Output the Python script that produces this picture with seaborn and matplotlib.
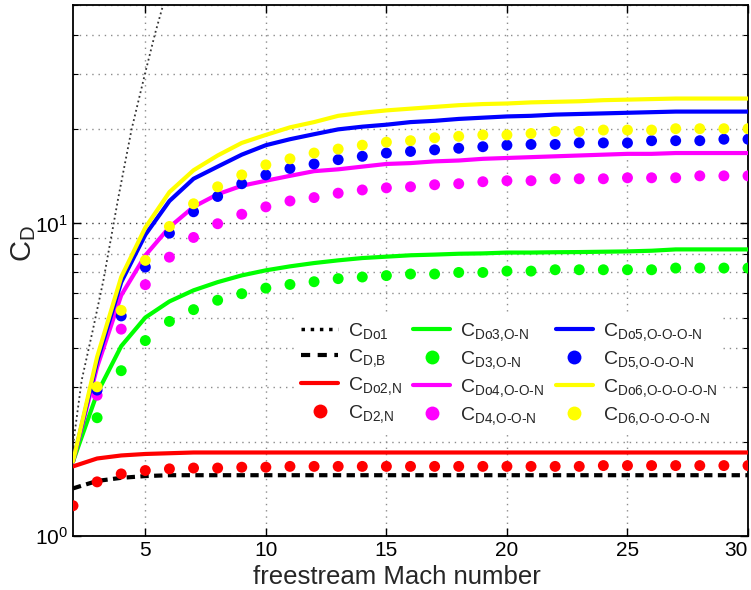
import matplotlib
matplotlib.use("Agg")
import matplotlib.pyplot as plt
import seaborn as sns
import pandas as pd
from matplotlib.lines import Line2D
from matplotlib.ticker import FixedLocator, NullFormatter, LogLocator

# ---------------- data ----------------
mach = list(range(2, 31))
mach_pts = list(range(3, 31))

# C_Do1 (steep dotted curve)
mach_o1 = [2.0, 2.36, 2.82, 3.26, 3.88, 4.43, 4.98, 5.40, 5.80]
cdo1 = [1.95, 3.15, 4.55, 6.57, 12.1, 20.0, 30.0, 40.4, 52.0]

cd_b = [1.42, 1.50, 1.535, 1.555, 1.565, 1.565, 1.565, 1.565, 1.565, 1.565,
        1.565, 1.565, 1.565, 1.565, 1.565, 1.565, 1.565, 1.565, 1.565, 1.565,
        1.565, 1.565, 1.565, 1.565, 1.565, 1.565, 1.565, 1.565, 1.565]
cdo2 = [1.67, 1.77, 1.81, 1.83, 1.84, 1.85, 1.85, 1.85, 1.85, 1.85,
        1.85, 1.85, 1.85, 1.85, 1.85, 1.85, 1.85, 1.85, 1.85, 1.85,
        1.85, 1.85, 1.85, 1.85, 1.85, 1.85, 1.85, 1.85, 1.85]
cdo3 = [1.73, 2.86, 4.05, 5.00, 5.63, 6.11, 6.49, 6.82, 7.08, 7.29,
        7.47, 7.62, 7.75, 7.83, 7.91, 7.95, 8.00, 8.02, 8.07, 8.07,
        8.09, 8.10, 8.12, 8.14, 8.18, 8.26, 8.26, 8.26, 8.26]
cdo4 = [1.73, 3.47, 5.89, 7.90, 9.73, 11.3, 12.4, 13.2, 13.7, 14.2,
        14.7, 14.9, 15.2, 15.5, 15.6, 15.8, 15.9, 16.1, 16.2, 16.3,
        16.4, 16.5, 16.6, 16.7, 16.7, 16.8, 16.8, 16.8, 16.8]
cdo5 = [1.73, 3.62, 6.49, 9.20, 11.8, 13.9, 15.2, 16.6, 17.8, 18.6,
        19.3, 20.0, 20.4, 20.7, 21.1, 21.3, 21.6, 21.8, 22.0, 22.1,
        22.3, 22.4, 22.5, 22.6, 22.7, 22.8, 22.8, 22.8, 22.8]
cdo6 = [1.73, 3.74, 6.74, 9.70, 12.6, 14.8, 16.5, 18.1, 19.2, 20.3,
        21.1, 22.1, 22.6, 23.0, 23.3, 23.6, 23.9, 24.1, 24.2, 24.4,
        24.5, 24.6, 24.8, 24.9, 25.0, 25.1, 25.1, 25.1, 25.1]

cd2 = [1.25, 1.49, 1.58, 1.62, 1.64, 1.65, 1.65, 1.66, 1.66, 1.67,
       1.67, 1.67, 1.67, 1.67, 1.67, 1.67, 1.67, 1.67, 1.67, 1.67,
       1.67, 1.67, 1.68, 1.68, 1.68, 1.68, 1.68, 1.68, 1.68]
cd3 = [2.39, 3.38, 4.22, 4.86, 5.30, 5.68, 5.96, 6.21, 6.38, 6.51,
       6.66, 6.74, 6.81, 6.89, 6.89, 6.97, 6.97, 7.04, 7.04, 7.11,
       7.11, 7.11, 7.11, 7.11, 7.20, 7.20, 7.20, 7.20]
cd4 = [2.82, 4.59, 6.37, 7.80, 9.02, 9.98, 10.7, 11.3, 11.8, 12.1,
       12.5, 12.8, 13.0, 13.1, 13.3, 13.4, 13.6, 13.7, 13.7, 13.9,
       13.9, 13.9, 14.0, 14.0, 14.0, 14.2, 14.2, 14.2]
cd5 = [2.93, 5.06, 7.25, 9.31, 10.9, 12.2, 13.4, 14.3, 15.0, 15.5,
       16.0, 16.4, 16.8, 17.0, 17.2, 17.4, 17.6, 17.8, 17.9, 17.9,
       18.1, 18.1, 18.1, 18.4, 18.4, 18.4, 18.6, 18.6]
cd6 = [3.00, 5.27, 7.62, 9.78, 11.56, 13.1, 14.3, 15.4, 16.1, 16.8,
       17.3, 17.8, 18.2, 18.4, 18.8, 19.0, 19.2, 19.2, 19.4, 19.7,
       19.7, 19.9, 19.9, 19.9, 20.1, 20.1, 20.1, 20.1]

x_ticks = [5, 10, 15, 20, 25, 30]

# ---------------- style ----------------
sns.set_style("ticks")
plt.rcParams["font.family"] = ["Liberation Sans", "DejaVu Sans"]
plt.rcParams["mathtext.fontset"] = "custom"
plt.rcParams["mathtext.rm"] = "Liberation Sans"
plt.rcParams["mathtext.it"] = "Liberation Sans:italic"
plt.rcParams["mathtext.bf"] = "Liberation Sans:bold"
plt.rcParams["mathtext.default"] = "regular"

RED, GREEN, MAG, BLUE, YEL = "#ff0000", "#00ff00", "#ff00ff", "#0000ff", "#ffff00"

fig = plt.figure(figsize=(7.51, 5.90), dpi=100)
ax = fig.add_axes([73 / 751, 1 - 536 / 590, 675 / 751, 531 / 590])
ax.set_yscale("log")

LW = 3.0
sns.lineplot(x=mach_o1, y=cdo1, ax=ax, color="0.2", lw=1.3, linestyle=":", zorder=3)
sns.lineplot(x=mach, y=cd_b, ax=ax, color="black", lw=3.0, zorder=3)
ax.lines[-1].set_dashes((2.0, 1.3))
sns.lineplot(x=mach, y=cdo2, ax=ax, color=RED, lw=LW, zorder=3)
sns.lineplot(x=mach, y=cdo3, ax=ax, color=GREEN, lw=LW, zorder=3)
sns.lineplot(x=mach, y=cdo4, ax=ax, color=MAG, lw=LW, zorder=3)
sns.lineplot(x=mach, y=cdo5, ax=ax, color=BLUE, lw=LW, zorder=3)
sns.lineplot(x=mach, y=cdo6, ax=ax, color=YEL, lw=LW, zorder=3)

S = 62
sns.scatterplot(x=mach, y=cd2, ax=ax, color=RED, s=S, edgecolor="none", zorder=4, legend=False)
sns.scatterplot(x=mach_pts, y=cd3, ax=ax, color=GREEN, s=S, edgecolor="none", zorder=4, legend=False)
sns.scatterplot(x=mach_pts, y=cd4, ax=ax, color=MAG, s=S, edgecolor="none", zorder=4, legend=False)
sns.scatterplot(x=mach_pts, y=cd5, ax=ax, color=BLUE, s=S, edgecolor="none", zorder=4, legend=False)
sns.scatterplot(x=mach_pts, y=cd6, ax=ax, color=YEL, s=S, edgecolor="none", zorder=5, legend=False)

ax.set_xlim(2, 30)
ax.set_ylim(1, 50)
ax.xaxis.set_major_locator(FixedLocator(x_ticks))
ax.yaxis.set_major_locator(LogLocator(base=10, numticks=5))
ax.yaxis.set_minor_locator(LogLocator(base=10, subs=[2, 3, 4, 5, 6, 7, 8, 9], numticks=20))
ax.yaxis.set_minor_formatter(NullFormatter())

ax.grid(True, which="major", axis="x", color="0.55", ls=(0, (1, 3.5)), lw=1.0)
ax.grid(True, which="major", axis="y", color="0.25", ls=(0, (1, 3.5)), lw=1.0)
ax.grid(True, which="minor", axis="y", color="0.55", ls=(0, (1, 3.5)), lw=1.0)

ax.tick_params(which="both", direction="in", top=True, right=True, labelsize=15, colors="black")
ax.tick_params(which="major", length=6, width=1.0)
ax.tick_params(which="minor", length=3.5, width=0.8)
for sp in ax.spines.values():
    sp.set_color("black")
    sp.set_linewidth(1.3)

# keep the last x tick label ("30") inside the figure
ax.xaxis.get_major_ticks()[-1].label1.set_horizontalalignment("right")

ax.set_xlabel("freestream Mach number", fontsize=18.5)
ax.xaxis.set_label_coords((397 - 73) / 675, -0.055, transform=ax.transAxes)
ax.xaxis.label.set_va("top")
ax.set_ylabel(r"C$_\mathrm{D}$", fontsize=21)
ax.yaxis.set_label_coords(-0.052, 0.55)

# ---------------- legend ----------------
def lab(sub):
    return r"C$_{\text{" + sub + r"}}$"

ms = 10
handles = [
    Line2D([], [], color="black", lw=2.5, ls=":"),
    Line2D([], [], color="black", lw=3, dashes=(2.2, 1.8)),
    Line2D([], [], color=RED, lw=LW),
    Line2D([], [], color=RED, marker="o", ls="none", ms=ms, mec="none"),
    Line2D([], [], color=GREEN, lw=LW),
    Line2D([], [], color=GREEN, marker="o", ls="none", ms=ms, mec="none"),
    Line2D([], [], color=MAG, lw=LW),
    Line2D([], [], color=MAG, marker="o", ls="none", ms=ms, mec="none"),
    Line2D([], [], color=BLUE, lw=LW),
    Line2D([], [], color=BLUE, marker="o", ls="none", ms=ms, mec="none"),
    Line2D([], [], color=YEL, lw=LW),
    Line2D([], [], color=YEL, marker="o", ls="none", ms=ms, mec="none"),
]
labels = [lab("Do1"), lab("D,B"), lab("Do2,N"), lab("D2,N"),
          lab("Do3,O-N"), lab("D3,O-N"), lab("Do4,O-O-N"), lab("D4,O-O-N"),
          lab("Do5,O-O-O-N"), lab("D5,O-O-O-N"), lab("Do6,O-O-O-O-N"), lab("D6,O-O-O-O-N")]

leg = ax.legend(handles, labels, ncol=3, loc="upper left",
                bbox_to_anchor=(0.315, 0.435), fontsize=14,
                frameon=True, fancybox=False, framealpha=1.0,
                facecolor="white", edgecolor="none",
                handlelength=1.9, handletextpad=0.5, columnspacing=0.6,
                labelspacing=0.32, borderpad=0.3)
leg.set_zorder(10)

fig.savefig("out.png", dpi=100)
